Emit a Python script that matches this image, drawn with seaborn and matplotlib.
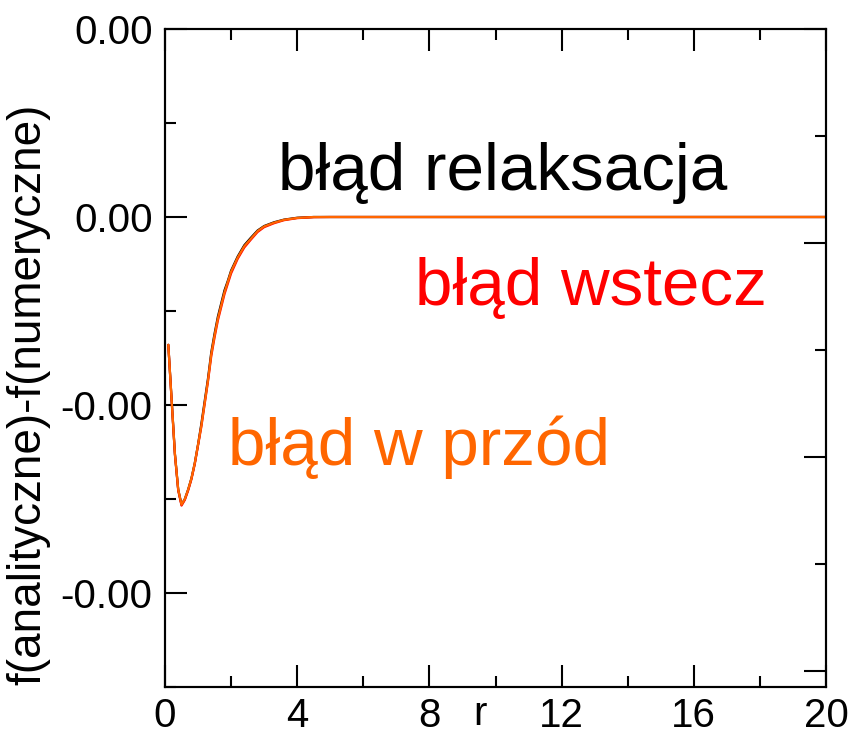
import numpy as np
import pandas as pd
import matplotlib
matplotlib.use("Agg")
import matplotlib.pyplot as plt
from matplotlib.ticker import FixedLocator, MultipleLocator, NullFormatter
import seaborn as sns

# radial grid and error curves (analytical minus numerical)
r = [0.1, 0.2, 0.3, 0.4, 0.5, 0.6, 0.7, 0.8, 0.9, 1.0,
     1.1, 1.2, 1.3, 1.4, 1.5, 1.6, 1.7, 1.8, 1.9, 2.0,
     2.2, 2.4, 2.6, 2.8, 3.0, 3.3, 3.6, 4.0, 4.5, 5.0,
     6.0, 8.0, 10.0, 12.0, 14.0, 16.0, 18.0, 20.0]

err_relaksacja = [-0.68e-4, -0.97e-4, -1.26e-4, -1.45e-4, -1.53e-4, -1.50e-4, -1.45e-4, -1.39e-4, -1.31e-4, -1.21e-4,
                  -1.10e-4, -0.98e-4, -0.86e-4, -0.72e-4, -0.62e-4, -0.53e-4, -0.46e-4, -0.39e-4, -0.34e-4, -0.285e-4,
                  -0.21e-4, -0.15e-4, -0.11e-4, -0.072e-4, -0.048e-4, -0.028e-4, -0.014e-4, -0.004e-4, 0.0, 0.0,
                  0.0, 0.0, 0.0, 0.0, 0.0, 0.0, 0.0, 0.0]

err_wstecz = [-0.68e-4, -0.975e-4, -1.265e-4, -1.455e-4, -1.535e-4, -1.505e-4, -1.455e-4, -1.395e-4, -1.315e-4, -1.215e-4,
              -1.115e-4, -0.995e-4, -0.875e-4, -0.74e-4, -0.64e-4, -0.55e-4, -0.48e-4, -0.41e-4, -0.355e-4, -0.30e-4,
              -0.222e-4, -0.162e-4, -0.12e-4, -0.08e-4, -0.054e-4, -0.033e-4, -0.017e-4, -0.006e-4, -0.001e-4, 0.0,
              0.0, 0.0, 0.0, 0.0, 0.0, 0.0, 0.0, 0.0]

err_przod = [-0.68e-4, -0.97e-4, -1.26e-4, -1.45e-4, -1.53e-4, -1.50e-4, -1.45e-4, -1.39e-4, -1.31e-4, -1.21e-4,
             -1.11e-4, -0.99e-4, -0.87e-4, -0.73e-4, -0.63e-4, -0.54e-4, -0.47e-4, -0.40e-4, -0.345e-4, -0.29e-4,
             -0.215e-4, -0.155e-4, -0.115e-4, -0.075e-4, -0.05e-4, -0.03e-4, -0.015e-4, -0.005e-4, 0.0, 0.0,
             0.0, 0.0, 0.0, 0.0, 0.0, 0.0, 0.0, 0.0]

x_ticks = [0, 4, 8, 12, 16, 20]
x_tick_labels = ["0", "4", "8", "12", "16", "20"]
y_ticks = [1e-4, 0.0, -1e-4, -2e-4]
y_tick_labels = ["0.00", "0.00", "-0.00", "-0.00"]

labels = ["błąd relaksacja", "błąd wstecz", "błąd w przód"]
colors = ["#000000", "#FF0000", "#FF6600"]

sns.set_style("ticks")
plt.rcParams["font.family"] = ["Liberation Sans", "DejaVu Sans"]
plt.rcParams["axes.unicode_minus"] = False
plt.rcParams["text.color"] = "black"
plt.rcParams["axes.labelcolor"] = "black"
plt.rcParams["xtick.color"] = "black"
plt.rcParams["ytick.color"] = "black"
plt.rcParams["axes.edgecolor"] = "black"

fig = plt.figure(figsize=(8.51, 7.41), dpi=100)
ax = fig.add_axes([165 / 851, 1 - 687 / 741, 661 / 851, 658 / 741])

df = pd.DataFrame({"r": r, "relaksacja": err_relaksacja, "wstecz": err_wstecz, "przod": err_przod})
for col, c in zip(["relaksacja", "wstecz", "przod"], colors):
    sns.lineplot(data=df, x="r", y=col, color=c, linewidth=1.6, ax=ax, legend=False)

ax.set_xlim(0, 20)
ax.set_ylim(-2.5e-4, 1e-4)

ax.xaxis.set_major_locator(FixedLocator(x_ticks))
ax.set_xticklabels(x_tick_labels)
ax.xaxis.set_minor_locator(MultipleLocator(2))
ax.yaxis.set_major_locator(FixedLocator(y_ticks))
ax.set_yticklabels(y_tick_labels)
ax.yaxis.set_minor_locator(MultipleLocator(0.5e-4))

ax.tick_params(which="both", direction="in", top=True, right=False, width=1.5,
               color="black", labelcolor="black")
ax.tick_params(which="major", length=16, labelsize=29, pad=9)
ax.tick_params(which="minor", length=8)
ax.tick_params(axis="x", which="major", pad=7)

for s in ax.spines.values():
    s.set_linewidth(1.5)
    s.set_color("black")

# secondary scale on the right side, ticks only
tw = ax.twinx()
tw.set_ylim(-3.075, 0)
tw.yaxis.set_major_locator(MultipleLocator(1))
tw.yaxis.set_minor_locator(MultipleLocator(0.5))
tw.yaxis.set_major_formatter(NullFormatter())
tw.tick_params(which="both", direction="in", width=1.5, right=True, left=False, color="black")
tw.tick_params(which="major", length=16)
tw.tick_params(which="minor", length=8)
for s in tw.spines.values():
    s.set_linewidth(1.5)
    s.set_color("black")

ax.set_xlabel("r", fontsize=29)
ax.xaxis.set_label_coords(0.4766, -0.012)
ax.set_ylabel("f(analityczne)-f(numeryczne)", fontsize=33)
ax.yaxis.set_label_coords(-0.174, 0.445)

ax.text(3.42, 0.144e-4, labels[0], color=colors[0], fontsize=48.5, ha="left", va="baseline")
ax.text(7.56, -0.468e-4, labels[1], color=colors[1], fontsize=48.5, ha="left", va="baseline")
ax.text(1.90, -1.32e-4, labels[2], color=colors[2], fontsize=48.5, ha="left", va="baseline")

fig.savefig("out.png", dpi=100)
